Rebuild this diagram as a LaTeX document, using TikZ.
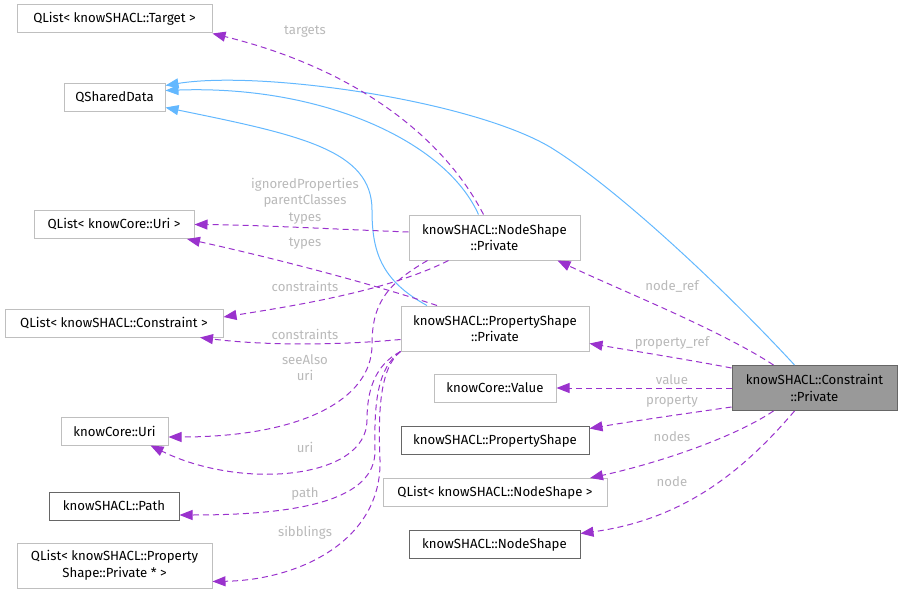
\documentclass[tikz,border=0pt]{standalone}
\usepackage{fontspec}
\setmainfont{Fira Sans}
\usetikzlibrary{arrows.meta}
\definecolor{inhblue}{HTML}{63B8FF}
\definecolor{usepurple}{HTML}{9A32CD}
\definecolor{lblgray}{RGB}{185,185,185}
\definecolor{nodocgray}{HTML}{BFBFBF}
\definecolor{docgray}{HTML}{666666}
\definecolor{selfgray}{HTML}{999999}
\tikzstyle{nodocbox}=[rectangle,draw=nodocgray,fill=white,line width=1pt,
                      minimum height=28pt,inner sep=0pt,align=center]
\tikzstyle{docbox}=[nodocbox,draw=docgray]
\tikzstyle{selfbox}=[docbox,fill=selfgray]
\tikzstyle{twoline}=[minimum height=45pt]
\tikzstyle{inhline}=[draw=inhblue,line width=1pt,
                     -{Triangle[length=13pt,width=10pt]}]
\tikzstyle{useline}=[draw=usepurple,line width=1pt,dash pattern=on 6pt off 4pt,
                     -{Triangle[length=13pt,width=10pt]}]
\tikzstyle{edgelbl}=[text=lblgray,inner sep=0pt,align=center]

\begin{document}
\begin{tikzpicture}[x=1pt,y=-1pt,font=\fontsize{13.2}{16.5}\selectfont]
    \useasboundingbox (0,0) rectangle (906,594);
    \node (tgtlist) at (114.5, 19) [nodocbox,minimum width=195pt]{QList< knowSHACL::Target >};
    \node (qshared) at (114.5, 97.5) [nodocbox,minimum width=101pt]{QSharedData};
    \node (urilist) at (114, 224.5) [nodocbox,minimum width=160pt]{QList< knowCore::Uri >};
    \node (conlist) at (114, 323) [nodocbox,minimum width=218pt]{QList< knowSHACL::Constraint >};
    \node (coreuri) at (114.5, 431) [nodocbox,minimum width=107pt]{knowCore::Uri};
    \node (shpath) at (114, 506) [docbox,minimum width=130pt]{knowSHACL::Path};
    \node (psplist) at (114.5, 565.5) [nodocbox,twoline,minimum width=195pt]{QList< knowSHACL::Property\\Shape::Private * >};
    \node (nsp) at (494.5, 237.5) [nodocbox,twoline,minimum width=171pt]{knowSHACL::NodeShape\\::Private};
    \node (psp) at (495, 328.5) [nodocbox,twoline,minimum width=188pt]{knowSHACL::PropertyShape\\::Private};
    \node (corevalue) at (495, 388) [nodocbox,minimum width=122pt]{knowCore::Value};
    \node (pshape) at (495, 440.5) [docbox,minimum width=188pt]{knowSHACL::PropertyShape};
    \node (nslist) at (495, 492.5) [nodocbox,minimum width=224pt]{QList< knowSHACL::NodeShape >};
    \node (nshape) at (494.5, 544.5) [docbox,minimum width=171pt]{knowSHACL::NodeShape};
    \node (cpriv) at (814.5, 388) [selfbox,twoline,minimum width=165pt]{knowSHACL::Constraint\\::Private};

    \draw[inhline] ([xshift=-20pt]cpriv.north) .. controls (730,295) and (620,190) .. (550,147)
        .. controls (470,100) and (260,70) .. ([yshift=12pt]qshared.east);
    \draw[inhline] ([xshift=-16pt]nsp.north) .. controls (445,140) and (320,85) .. ([yshift=7pt]qshared.east);
    \draw[inhline] ([xshift=-68pt]psp.north) .. controls (380,280) and (372,250) .. (372,210)
        .. controls (372,150) and (300,135) .. ([yshift=-10pt]qshared.east);

    \draw[useline] ([xshift=-11pt]nsp.north) .. controls (445,140) and (360,70) .. (tgtlist.south east);
    \draw[useline] ([yshift=5.5pt]nsp.west) .. controls (330,229) and (260,225) .. (urilist.east);
    \draw[useline] ([xshift=-58pt]psp.north) .. controls (360,280) and (260,255) .. ([xshift=73pt]urilist.south);
    \draw[useline] ([xshift=-46pt]nsp.south) .. controls (390,290) and (300,305) .. ([yshift=6pt]conlist.east);
    \draw[useline] ([yshift=-11pt]psp.west) .. controls (330,346) and (260,345) .. ([xshift=86pt]conlist.south);
    \draw[useline] ([xshift=-67pt]nsp.south) .. controls (385,285) and (372,305) .. (372,345)
        .. controls (372,400) and (300,437) .. ([yshift=-6pt]coreuri.east);
    \draw[useline] (psp.south west) .. controls (375,365) and (367,390) .. (367,420)
        .. controls (367,480) and (240,490) .. ([xshift=36pt]coreuri.south);
    \draw[useline] (psp.south west) .. controls (378,368) and (374,400) .. (375,450)
        .. controls (376,500) and (300,515) .. ([yshift=-9pt]shpath.east);
    \draw[useline] (psp.south west) .. controls (380,368) and (378,410) .. (380,460)
        .. controls (382,540) and (300,580) .. ([yshift=-16pt]psplist.east);

    \draw[useline] ([xshift=-41pt]cpriv.north) .. controls (720,330) and (620,290) .. ([xshift=63pt]nsp.south);
    \draw[useline] ([yshift=20pt]cpriv.west) .. controls (690,360) and (640,352) .. ([yshift=-15pt]psp.east);
    \draw[useline] (cpriv.west) -- (corevalue.east);
    \draw[useline] ([yshift=-19pt]cpriv.west) .. controls (690,413) and (640,420) .. ([yshift=12pt]pshape.east);
    \draw[useline] ([xshift=-41pt]cpriv.south) .. controls (730,440) and (650,465) .. ([xshift=95pt]nslist.north);
    \draw[useline] ([xshift=-20pt]cpriv.south) .. controls (740,475) and (680,520) .. ([yshift=11pt]nshape.east);

    \node (ltargets) at (305, 32) [edgelbl]{targets};
    \node (lignored) at (305, 201) [edgelbl]{ignoredProperties\\parentClasses\\types};
    \node (ltypes) at (305, 244) [edgelbl]{types};
    \node (lnscons) at (305, 286) [edgelbl]{constraints};
    \node (lpscons) at (305, 334) [edgelbl]{constraints};
    \node (lseealso) at (305, 367.5) [edgelbl]{seeAlso\\uri};
    \node (luri) at (305, 447) [edgelbl]{uri};
    \node (lpath) at (305, 494) [edgelbl]{path};
    \node (lsibs) at (305, 533) [edgelbl]{sibblings};
    \node (lnoderef) at (672, 286) [edgelbl]{node\_ref};
    \node (lpropref) at (672, 343) [edgelbl]{property\_ref};
    \node (lvalue) at (672, 380) [edgelbl]{value};
    \node (lprop) at (672, 402) [edgelbl]{property};
    \node (lnodes) at (672, 437) [edgelbl]{nodes};
    \node (lnode) at (672, 482) [edgelbl]{node};
\end{tikzpicture}
\end{document}
